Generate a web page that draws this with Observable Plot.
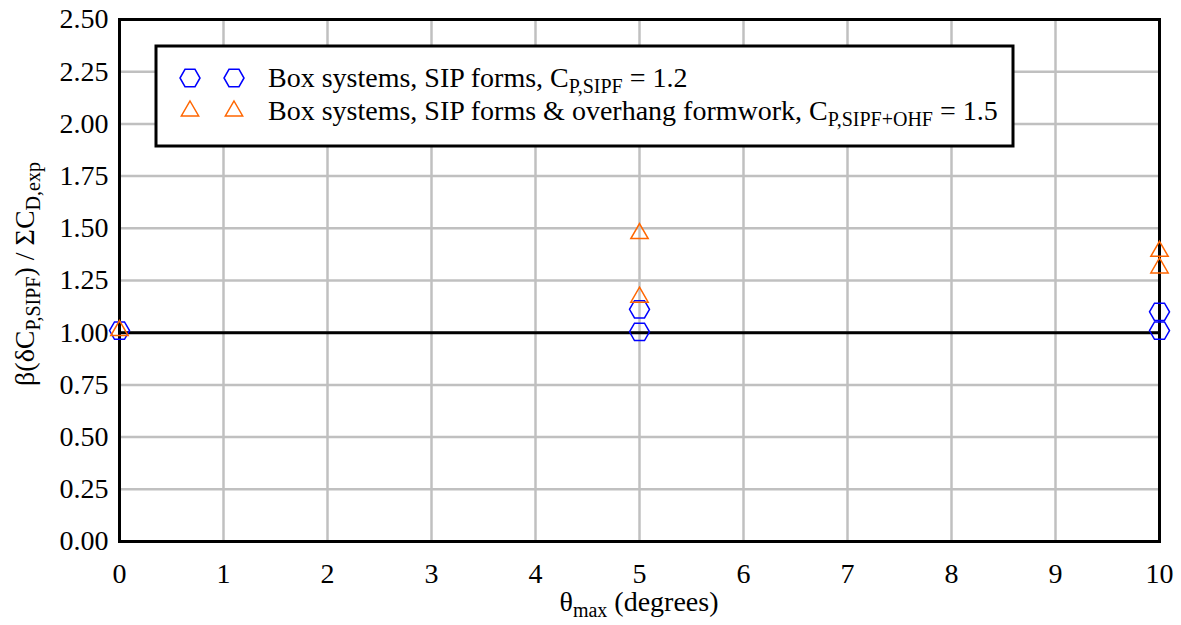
<!DOCTYPE html>
<html><head><meta charset="utf-8">
<script src="https://cdn.jsdelivr.net/npm/d3@7"></script>
<script src="https://cdn.jsdelivr.net/npm/@observablehq/plot@0.6"></script>
<style>
body{margin:0;background:#fff;position:relative;width:1181px;height:625px}
#xlabel{position:absolute;left:119px;width:1040px;top:588px;text-align:center;font-family:"Liberation Serif",serif;font-size:28px;line-height:28px;color:#000}
#xlabel span.sub{font-size:20px;vertical-align:-6px}
</style>
</head><body><div id="chart"></div>
<div id="xlabel">θ<span class="sub">max</span> (degrees)</div>
<script>
// ---- data ----
const thetaSipf = [0, 5, 5, 10, 10];
const ratioSipf = [1.01, 1.112, 1.004, 1.10, 1.01];
const thetaOhf = [0, 5, 5, 10, 10];
const ratioOhf = [1.01, 1.475, 1.17, 1.39, 1.31];
const xTicks = [0, 1, 2, 3, 4, 5, 6, 7, 8, 9, 10];
const yTicks = [0, 0.25, 0.5, 0.75, 1.0, 1.25, 1.5, 1.75, 2.0, 2.25, 2.5];
const referenceLine = [1.0];
const seriesNames = ["Box systems, SIP forms, C", "Box systems, SIP forms & overhang formwork, C"];
const seriesSubs = ["P,SIPF", "P,SIPF+OHF"];
const seriesTails = [" = 1.2", " = 1.5"];
const seriesColors = ["#0000ff", "#ff6600"];

const sipf = thetaSipf.map((t, i) => ({theta: t, ratio: ratioSipf[i]}));
const ohf = thetaOhf.map((t, i) => ({theta: t, ratio: ratioOhf[i]}));

// custom symbols: flat-top hexagon, upward triangle
const hexFlat = {draw(ctx, size) {
  const r = Math.sqrt(size / Math.PI), h = r * Math.sqrt(3) / 2;
  ctx.moveTo(r, 0); ctx.lineTo(r / 2, h); ctx.lineTo(-r / 2, h);
  ctx.lineTo(-r, 0); ctx.lineTo(-r / 2, -h); ctx.lineTo(r / 2, -h); ctx.closePath();
}};
const triUp = {draw(ctx, size) {
  const r = Math.sqrt(size / Math.PI);
  ctx.moveTo(0, -r); ctx.lineTo(r * 0.866, r * 0.5); ctx.lineTo(-r * 0.866, r * 0.5); ctx.closePath();
}};
const symbols = [hexFlat, triUp];
const FONT = "Liberation Serif";
const FS = 28, SUB = 20, SHIFT = 6;

const plot = Plot.plot({
  width: 1181, height: 590,
  marginLeft: 119, marginRight: 22, marginTop: 19, marginBottom: 49,
  x: {domain: [0, 10]},
  y: {domain: [0, 2.5]},
  marks: [
    Plot.gridX(xTicks, {stroke: "#c0c0c0", strokeOpacity: 1, strokeWidth: 2.5}),
    Plot.gridY(yTicks, {stroke: "#c0c0c0", strokeOpacity: 1, strokeWidth: 2.5}),
    Plot.ruleY(referenceLine, {stroke: "#000", strokeWidth: 3}),
    Plot.frame({stroke: "#000", strokeWidth: 3}),
    Plot.axisX(xTicks, {tickSize: 0, tickPadding: 22, label: null, fontSize: FS, fontFamily: FONT, fill: "#000", tickFormat: d => String(d)}),
    Plot.axisY(yTicks, {tickSize: 0, tickPadding: 11, label: null, fontSize: FS, fontFamily: FONT, fill: "#000", tickFormat: d3.format(".2f")}),
    Plot.dot(sipf, {x: "theta", y: "ratio", symbol: hexFlat, r: 10, stroke: seriesColors[0], strokeWidth: 1.5, fill: "none"}),
    Plot.dot(ohf, {x: "theta", y: "ratio", symbol: triUp, r: 10, stroke: seriesColors[1], strokeWidth: 1.5, fill: "none"})
  ]
});
document.getElementById("chart").appendChild(plot);

const svg = d3.select(plot);
const ys = plot.scale("y");
const cy = (ys.range[0] + ys.range[1]) / 2;

// y axis label
const yl = svg.append("text").attr("transform", `translate(34,${cy - 6}) rotate(-90)`).attr("text-anchor", "middle")
  .attr("font-family", FONT).attr("font-size", FS).attr("fill", "#000");
yl.append("tspan").text("β(δC");
yl.append("tspan").attr("dy", SHIFT).attr("font-size", SUB).text("P,SIPF");
yl.append("tspan").attr("dy", -SHIFT).text(") / ΣC");
yl.append("tspan").attr("dy", SHIFT).attr("font-size", SUB).text("D,exp");

// legend
const lg = svg.append("g");
lg.append("rect").attr("x", 156).attr("y", 46).attr("width", 857).attr("height", 100)
  .attr("fill", "#fff").attr("stroke", "#000").attr("stroke-width", 3);
seriesNames.forEach((name, i) => {
  const yy = 78 + i * 33;
  [190, 234].forEach(mx => {
    lg.append("path").attr("d", d3.symbol().type(symbols[i]).size(Math.PI * 100)())
      .attr("transform", `translate(${mx},${yy})`).attr("fill", "none")
      .attr("stroke", seriesColors[i]).attr("stroke-width", 1.5);
  });
  const t = lg.append("text").attr("x", 268).attr("y", yy + 9).attr("text-anchor", "start")
    .attr("font-family", FONT).attr("font-size", FS).attr("fill", "#000");
  t.append("tspan").text(name);
  t.append("tspan").attr("dy", SHIFT).attr("font-size", SUB).text(seriesSubs[i]);
  t.append("tspan").attr("dy", -SHIFT).text(seriesTails[i]);
});
</script></body></html>
